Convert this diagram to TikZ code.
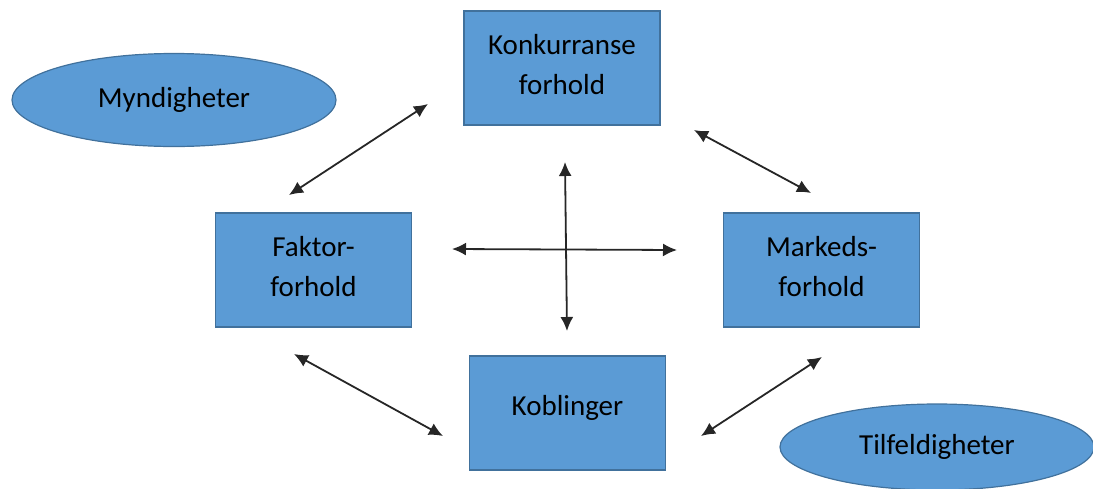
\documentclass[tikz,border=0pt]{standalone}
\usepackage{fontspec}
\setmainfont{Carlito}
\usetikzlibrary{arrows.meta,shapes.geometric}
\definecolor{boxblue}{HTML}{5B9BD5}
\definecolor{boxline}{HTML}{41719C}
\tikzset{
  factorbox/.style={rectangle,draw=boxline,fill=boxblue,line width=0.6pt,
    minimum width=98pt,minimum height=57pt,align=center,
    font=\fontsize{14.5}{20}\selectfont},
  outerfactor/.style={ellipse,draw=boxline,fill=boxblue,line width=0.6pt,
    inner sep=0pt,font=\fontsize{14.5}{20}\selectfont},
  link/.style={{Latex[length=7pt,width=6.5pt]}-{Latex[length=7pt,width=6.5pt]},
    line width=0.9pt,draw=black!85}
}
\begin{document}
\begin{tikzpicture}[x=0.5pt,y=-0.5pt]
      \useasboundingbox (0,0) rectangle (1093,488);
      \draw
        (562,68) node[factorbox] (konk){Konkurranse\\forhold\\[-16pt]\mbox{}}
        (313.5,270) node[factorbox] (faktor){Faktor-\\forhold\\[-16pt]\mbox{}}
        (821.5,270) node[factorbox] (marked){Markeds-\\forhold\\[-16pt]\mbox{}}
        (567.5,413) node[factorbox] (kobl){Koblinger\\[-12pt]\mbox{}}
        (174,100) node[outerfactor,minimum width=162pt,minimum height=46.5pt] (mynd){Myndigheter}
        (937,447) node[outerfactor,minimum width=157pt,minimum height=43pt] (tilf){Tilfeldigheter};
      % arrow ends
      \coordinate (a1) at (289,195);
      \coordinate (a2) at (428,104);
      \coordinate (b1) at (694,130);
      \coordinate (b2) at (811,193);
      \coordinate (c1) at (294,354);
      \coordinate (c2) at (443,436);
      \coordinate (d1) at (701,436);
      \coordinate (d2) at (822,357);
      \coordinate (h1) at (452,249);
      \coordinate (h2) at (677,250);
      \coordinate (v1) at (565,162);
      \coordinate (v2) at (567,331);
      \begin{scope}[link]
        \draw (a1) to (a2);
        \draw (b1) to (b2);
        \draw (c1) to (c2);
        \draw (d1) to (d2);
        \draw (h1) to (h2);
        \draw (v1) to (v2);
      \end{scope}
    \end{tikzpicture}
\end{document}
